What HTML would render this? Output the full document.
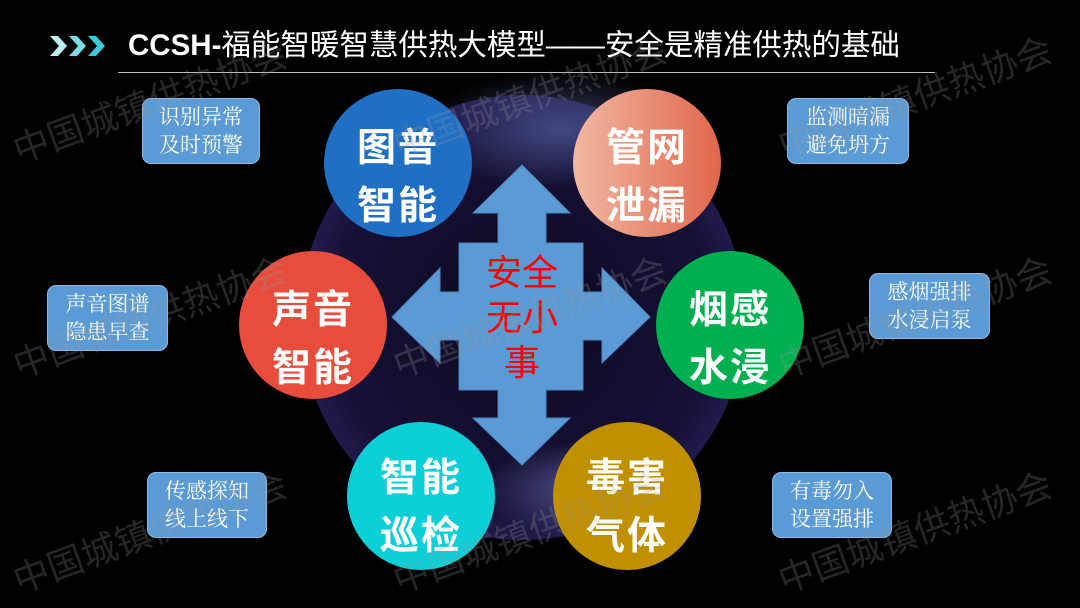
<!DOCTYPE html>
<html><head><meta charset="utf-8"><style>
html,body{margin:0;padding:0;background:#000;}
#c{position:relative;width:1080px;height:608px;overflow:hidden;background:#000;font-family:"Liberation Sans","Noto Sans CJK SC",sans-serif;}
.box{position:absolute;width:118px;height:66px;background:#5b9bd5;border:1px solid #8fb8e6;border-radius:9px;color:#fff;font-family:"Liberation Serif","Noto Serif CJK SC",serif;font-size:21px;line-height:28px;text-align:center;display:flex;flex-direction:column;justify-content:center;box-sizing:border-box;}
.cir{position:absolute;width:148px;height:148px;border-radius:50%;color:#fff;font-weight:bold;font-size:39px;line-height:58px;text-align:center;display:flex;flex-direction:column;justify-content:center;letter-spacing:2px;box-sizing:border-box;padding-top:30px;}
.wm{position:absolute;color:rgba(150,150,150,0.25);font-size:36px;transform:rotate(-20deg);transform-origin:left top;white-space:nowrap;}
</style></head><body><div id="c">
<div style="position:absolute;left:300px;top:95px;width:445px;height:445px;border-radius:50%;background:radial-gradient(circle at 50% 50%,rgba(20,15,50,0.6) 0%,rgba(40,30,100,0.55) 60%,rgba(90,80,200,0.5) 85%,rgba(0,0,0,0) 100%);"></div>
<div style="position:absolute;left:420px;top:70px;width:280px;height:120px;border-radius:50%;background:radial-gradient(ellipse,rgba(120,140,220,0.45),rgba(0,0,0,0) 70%);"></div>
<div style="position:absolute;left:480px;top:440px;width:220px;height:100px;border-radius:50%;background:radial-gradient(ellipse,rgba(140,150,230,0.5),rgba(0,0,0,0) 70%);"></div>

<svg style="position:absolute;left:50px;top:36px" width="60" height="20"><g fill="#3cc8d8"><polygon points="0,0 8,0 17,10 8,20 0,20 9,10" fill="#bdeff5"/><polygon points="19,0 27,0 36,10 27,20 19,20 28,10" fill="#7adbe6"/><polygon points="38,0 46,0 55,10 46,20 38,20 47,10"/></g></svg>
<div style="position:absolute;left:128px;top:26px;color:#fff;font-size:29.5px;line-height:40px;white-space:nowrap;"><b>CCSH-</b>福能智暖智慧供热大模型——安全是精准供热的基础</div>
<div style="position:absolute;left:118px;top:72px;width:817px;height:1px;background:#bbb;"></div>

<svg style="position:absolute;left:0;top:0" width="1080" height="608"><polygon fill="#5b9bd5" stroke="#4a86c0" stroke-width="1" points="522,165 570,213 546,213 546,243 583,243 583,292 602,292 602,268 650,317 602,363 602,340 583,340 583,390 546,390 546,418 570,418 522,465 473,418 498,418 498,390 459,390 459,340 440,340 440,363 392,317 440,268 440,292 459,292 459,243 498,243 498,213 473,213"/></svg>
<div style="position:absolute;left:472px;top:250px;width:100px;color:#ff0000;font-size:36px;line-height:45px;text-align:center;">安全<br>无小<br>事</div>

<div class="cir" style="left:324px;top:89px;background:#1f6fc5;"><div>图普</div><div>智能</div></div>
<div class="cir" style="left:573px;top:89px;background:linear-gradient(90deg,#f2b8a2,#e0664c);"><div>管网</div><div>泄漏</div></div>
<div class="cir" style="left:239px;top:251px;background:#e84c3d;"><div>声音</div><div>智能</div></div>
<div class="cir" style="left:656px;top:251px;background:#00b050;"><div>烟感</div><div>水浸</div></div>
<div class="cir" style="left:347px;top:422px;background:#0ccfd8;padding-top:24px;"><div>智能</div><div>巡检</div></div>
<div class="cir" style="left:553px;top:422px;background:#c09000;padding-top:24px;"><div>毒害</div><div>气体</div></div>

<div class="box" style="left:142px;top:98px;"><div>识别异常</div><div>及时预警</div></div>
<div class="box" style="left:787px;top:98px;width:122px;"><div>监测暗漏</div><div>避免坍方</div></div>
<div class="box" style="left:47px;top:285px;width:121px;"><div>声音图谱</div><div>隐患早查</div></div>
<div class="box" style="left:869px;top:273px;width:121px;"><div>感烟强排</div><div>水浸启泵</div></div>
<div class="box" style="left:147px;top:472px;width:120px;"><div>传感探知</div><div>线上线下</div></div>
<div class="box" style="left:772px;top:472px;width:120px;"><div>有毒勿入</div><div>设置强排</div></div>

<div class="wm" style="left:5px;top:125px;">中国城镇供热协会</div>
<div class="wm" style="left:385px;top:120px;">中国城镇供热协会</div>
<div class="wm" style="left:770px;top:120px;">中国城镇供热协会</div>
<div class="wm" style="left:5px;top:340px;">中国城镇供热协会</div>
<div class="wm" style="left:385px;top:340px;">中国城镇供热协会</div>
<div class="wm" style="left:770px;top:340px;">中国城镇供热协会</div>
<div class="wm" style="left:5px;top:555px;">中国城镇供热协会</div>
<div class="wm" style="left:385px;top:555px;">中国城镇供热协会</div>
<div class="wm" style="left:770px;top:555px;">中国城镇供热协会</div>
</div></body></html>
